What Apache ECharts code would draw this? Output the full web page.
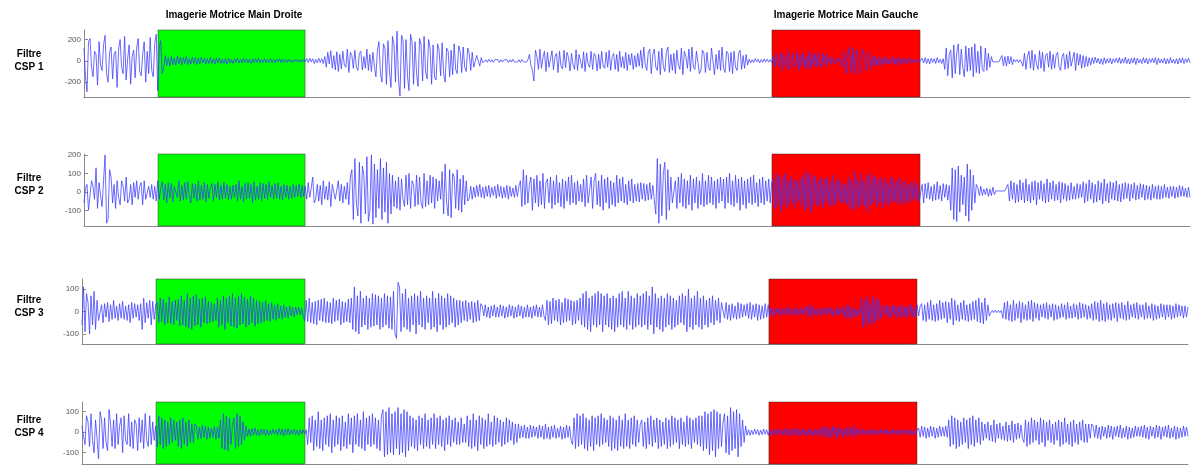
<!DOCTYPE html>
<html>
<head>
<meta charset="utf-8">
<script src="https://cdn.jsdelivr.net/npm/echarts@6/dist/echarts.min.js"></script>
<style>html,body{margin:0;padding:0;background:#fff}#c{width:1196px;height:465px}</style>
</head>
<body>
<div id="c"></div>
<script>
// ---- data (one value per sample) ----
const panelLabels = ['Filtre\nCSP 1', 'Filtre\nCSP 2', 'Filtre\nCSP 3', 'Filtre\nCSP 4'];
const blockTitles = ['Imagerie Motrice Main Droite', 'Imagerie Motrice Main Gauche'];
const tickValues1 = [-200, 0, 200];
const tickValues2 = [-100, 0, 100, 200];
const tickValues3 = [-100, 0, 100];
const tickValues4 = [-100, 0, 100];
const yRange1 = [-340, 290];
const yRange2 = [-185, 205];
const yRange3 = [-145, 145];
const yRange4 = [-155, 147];
// sample-index spans of the two imagery blocks
const greenSpanTop = [49.2, 146.9];
const redSpanTop = [457.2, 555.6];
const greenSpanBottom = [49.2, 148.2];
const redSpanBottom = [456.5, 554.9];

const csp1 = [
120,-150,-290,180,210,-60,-150,90,60,-230,180,-40,-90,150,240,-120,-200,80,130,-170,60,90,-250,110,200,-60,-120,230,-180,20,150,-220,40,100,-160,120,210,-100,-140,60,180,-200,90,-120,220,-90,-150,160,
250,-280,130,190,-120,-60,
50,-45,30,-50,40,-35,25,-40,45,-30,35,-40,30,-25,40,-35,20,-30,35,-25,30,-35,25,-30,35,-20,25,-30,20,-25,30,-25,20,-30,25,-20,30,-25,15,-25,
20,-30,25,-20,15,-25,20,-15,25,-20,15,-20,25,-15,20,-20,15,-25,20,-15,20,-15,25,-20,15,-15,20,-20,15,-15,20,-15,15,-20,15,-10,20,-15,15,-15,
12,-15,15,-12,10,-15,12,-10,15,-12,10,-12,15,-10,
20,-15,25,-10,20,-25,15,-20,25,-15,20,-25,
40,-60,80,-30,95,-70,50,-85,85,-100,60,-75,90,-40,-60,110,-110,80,50,-70,100,-60,-90,70,90,-85,40,-70,110,-90,60,-100,80,-50,
-150,100,180,-120,-200,160,120,-220,190,-100,-250,230,150,-200,280,-180,-330,240,200,-260,200,-150,-280,250,180,-220,180,-120,-240,210,
150,-190,230,-100,-170,200,120,-220,150,-160,-180,160,100,-140,170,-120,-200,120,90,-150,100,-130,160,-80,-120,140,90,-110,130,-60,-100,120,70,-90,80,-60,-70,50,40,-50,30,-20,
-15,10,-12,15,-10,12,-15,10,-8,12,-15,10,-12,8,-10,12,-15,10,-12,15,-10,8,-12,10,-15,12,-8,10,-12,10,
60,-40,-90,-190,100,40,-80,110,-70,30,90,-100,80,-60,-60,95,-85,40,70,-110,90,-50,-75,100,-65,80,30,-95,70,-40,-80,105,-90,60,50,-70,85,-100,75,-30,
-60,90,-80,70,40,-95,60,-75,90,-50,-70,80,-60,100,-90,40,70,-80,60,-100,90,-60,40,-70,80,-90,60,-40,70,-80,50,-60,70,-50,
100,-70,130,-40,-90,80,110,-120,60,110,-60,-90,90,-130,120,-50,-100,80,130,-110,60,-90,70,-120,100,-40,-80,120,-130,90,40,-70,110,-100,130,-60,
-80,90,100,-120,-90,100,70,-110,80,-60,-90,120,110,-130,60,-80,100,-90,130,-70,-110,90,70,-100,80,-120,90,-60,-90,70,100,-80,50,-70,60,-40,
15,-20,10,-15,20,-10,15,-20,12,-15,18,-10,15,-12,10,-15,
40,-60,70,-30,-50,80,-90,60,50,-70,90,-80,40,70,-60,-40,85,-90,60,-50,70,-60,40,-80,90,-70,60,-50,70,-60,80,-40,-60,70,-50,60,-40,30,-30,40,
25,-30,20,-20,30,-25,
-60,90,-40,-120,130,70,-110,120,-130,60,100,-90,-120,80,110,-60,-90,80,60,-70,40,-50,
45,-40,35,-45,30,-35,40,-30,25,-30,20,-25,40,-35,30,-40,25,-20,30,-25,20,-30,25,-20,20,-15,15,-20,15,-15,
-20,25,-20,30,-25,20,-30,25,-15,20,-25,30,-20,15,-25,20,
-80,120,-140,60,100,-160,150,-120,80,160,-130,110,-60,-150,140,-100,120,-90,130,-150,160,-110,90,-120,140,-80,-100,120,-90,70,-60,40,
-10,8,-10,6,-8,10,
50,-45,40,-50,45,-30,40,-35,
15,-10,12,-15,10,-12,
-50,70,-80,40,90,-70,100,-90,60,-30,-80,95,-70,80,-100,50,70,-60,90,-80,60,-70,50,80,-60,-90,40,70,-80,60,-70,90,-50,-60,80,-90,70,-40,60,-70,50,-60,40,-50,30,-40,
30,-25,35,-20,25,-30,20,-35,30,-25,20,-20,25,-30,20,-15,25,-20,30,-25,20,-20,35,-25,20,-30,25,-20,30,-35,25,-20,15,-25,30,-20,25,-30,20,-15,
25,-20,30,-35,25,-20,15,-20,25,-30,20,-25,30,-20,15,-25,20,-30,25,-20,30,-25,20,-15,25,-20
];

const csp2 = [
-60,20,40,-100,-110,60,30,-40,130,-90,50,-20,-80,60,200,-170,-150,120,80,-60,40,-90,60,-30,
-70,60,30,-50,80,-60,-40,40,-70,50,-30,60,-40,30,50,-70,60,-40,-50,30,-30,40,-40,30,
-50,60,-40,20,55,-45,40,-60,50,-35,45,-55,30,40,-30,60,-50,35,-45,50,-40,55,-20,-60,45,-35,40,-50,60,-45,35,-40,50,-55,40,-35,25,45,-50,40,
-30,55,-45,35,-40,50,-35,40,-45,30,-40,35,-30,40,-50,60,-40,30,-55,45,-40,50,-35,40,-60,55,-45,30,-40,50,-50,45,-35,40,-45,55,-30,35,-40,45,
-35,50,-40,30,-45,40,-30,35,-40,30,-35,40,-30,35,-25,40,-30,35,-25,30,
-40,50,-30,20,80,-60,-40,40,-50,35,-70,60,-40,30,-45,55,-80,40,50,-40,-30,60,-50,40,-60,30,-40,50,-70,80,
120,-150,180,-60,-130,160,-170,140,90,-120,190,-160,-100,200,-175,150,-140,120,-90,180,-150,130,-110,160,-170,100,-120,90,-80,60,
-90,80,-100,70,-40,-80,90,-70,100,-90,60,40,-80,90,-70,80,-60,-90,100,-80,60,-70,90,-60,80,-90,70,-50,60,-40,
110,-120,150,-60,-130,120,-140,100,80,-90,120,-100,70,-110,90,-70,60,-50,
-35,30,-40,25,-30,35,-25,40,-30,25,-35,30,-25,35,-30,25,-20,30,-35,40,-25,30,-35,25,-30,35,-40,30,-25,20,-30,35,-25,30,
60,-80,120,-70,90,-60,40,80,-100,70,-60,90,-80,60,-70,100,-90,50,70,-60,80,-90,60,-70,90,-60,50,-80,70,-90,60,-50,80,-70,90,-60,50,-70,60,-50,
40,-55,70,-80,90,-60,-70,80,-90,60,100,-70,60,-80,90,-100,70,-60,80,-90,60,-70,50,-80,90,-60,70,-50,80,-60,40,-70,60,-50,70,-60,40,-50,45,-55,
50,-40,45,-50,40,-45,50,-40,35,-45,
-120,180,-170,150,-130,100,160,-150,120,-100,80,-60,
-70,60,-90,80,-60,100,-80,70,-90,60,-70,90,-100,70,-60,80,-90,60,-70,100,-80,60,-70,90,-60,80,-70,60,-90,70,
-60,80,-50,70,-90,80,-60,100,-70,60,-80,90,-60,70,-100,80,-70,60,-90,70,-60,80,-70,90,-60,50,-80,70,-60,80,-70,60,-50,70,-60,50,
70,-90,100,-80,90,-110,80,-70,100,-90,60,-70,80,-60,70,-90,60,-50,70,-80,90,-100,110,-90,100,-110,80,-70,90,-80,60,-70,80,-90,70,-60,80,-70,60,-80,
90,-70,60,-50,70,-60,50,-60,40,-70,80,-90,60,-100,110,-80,70,-90,100,-70,60,-80,90,-110,100,-70,80,-60,90,-80,70,-60,80,-90,70,-60,50,-70,80,-60,
70,-50,60,-70,80,-60,50,-70,60,-50,40,-60,50,-40,60,-50,40,-50,
-50,40,-60,45,-35,50,-40,30,-50,40,-45,55,-40,35,-50,45,-30,40,-45,35,
-100,130,-150,120,-160,140,-110,90,-70,80,-130,150,-160,120,-100,90,-60,40,
25,-20,30,-20,15,-15,20,-25,15,-20,25,-15,
5,-5,5,-5,4,-5,6,-4,
40,-50,60,-40,50,-60,40,-55,65,-45,50,-60,70,-50,40,-60,55,-45,60,-70,50,-40,60,-50,45,-60,70,-55,50,-40,60,-50,40,-45,55,-60,50,-40,45,-50,
35,-45,50,-40,30,-40,45,-35,40,-30,55,-60,45,-50,65,-40,50,-60,40,-55,60,-45,50,-65,70,-50,45,-60,55,-40,50,-45,60,-50,40,-55,45,-40,50,-35,
45,-50,40,-35,50,-45,35,-40,45,-30,40,-45,35,-40,30,-45,40,-35,30,-40,35,-40,30,-35,40,-30,25,-35,30,-25,30,-35,25,-30,35,-25,30,-25,20,-30,
25,-30
];

const csp3 = [
-60,110,-90,80,40,-100,70,-60,90,-80,50,-40,
-40,30,-50,35,-25,40,-45,30,-35,50,-30,25,-40,35,-30,45,-35,25,-40,30,-50,40,-30,35,-25,30,-40,35,
-80,60,-50,40,-30,50,-60,45,-35,30,
40,-50,60,-45,55,-60,40,-50,65,-55,45,-60,50,-40,55,-65,70,-60,50,-70,80,-75,60,-80,70,-65,75,-60,55,-70,60,-50,65,-55,45,-50,40,-45,35,-40,
60,-70,50,-60,70,-80,60,-50,70,-65,80,-70,60,-75,70,-60,80,-55,65,-70,55,-60,70,-50,60,-65,50,-55,45,-50,40,-45,50,-40,35,-45,40,-35,30,-40,
35,-30,25,-35,30,-25,20,-30,25,-20,20,-25,20,-15,20,-15,15,-20,
-40,50,-45,60,-50,40,-55,45,-60,50,-40,55,-45,60,-50,45,-50,40,-55,60,-45,50,-40,55,-60,45,-50,40,-45,55,-50,60,
-80,110,-90,70,-100,90,-70,60,
-60,70,-80,60,-70,80,-65,75,-60,70,-80,60,-70,80,-60,70,-75,65,-80,90,-100,-120,130,110,
-90,80,-70,100,-80,60,-90,70,-60,80,-100,70,-60,90,-70,60,-80,70,-50,60,-80,90,-70,60,-90,80,-60,70,-80,60,-70,80,-60,70,-50,60,-70,50,-60,50,
-50,45,-40,50,-45,40,-35,45,-50,40,-45,50,-40,35,
25,-20,30,-25,20,-30,25,-20,30,-25,20,-25,30,-20,25,-30,20,-25,30,-20,25,-30,20,-25,30,-20,25,-30,20,-25,30,-25,20,-30,25,-20,30,-25,20,-25,30,-20,
-40,50,-60,45,-55,60,-40,50,-45,55,-60,40,-50,60,-45,55,-40,50,-60,45,-55,50,-40,60,
-60,80,-70,90,-80,60,-90,70,-60,80,-70,90,-60,80,-90,70,-60,80,-70,60,-80,70,-90,60,-70,80,-60,90,-70,60,-80,90,-60,70,-80,60,-70,80,-60,70,
-70,80,-60,90,-80,70,-60,110,-100,80,-70,60,-80,70,-90,60,-70,80,-60,70,-80,60,-70,50,-60,70,-50,80,-60,70,-90,100,-70,60,-80,70,-60,90,-70,60,
-80,70,-60,50,-70,60,-50,70,-60,50,-40,60,-50,40,
35,-30,40,-35,30,-40,35,-30,25,-35,40,-30,35,-25,30,-20,35,-30,40,-35,30,-25,35,-40,30,-35,25,-30,35,-25,30,-20,
15,-20,12,-15,18,-12,15,-20,10,-15,20,-12,15,-18,12,-15,20,-15,12,-18,15,-12,20,-15,25,-20,30,-25,20,-15,
15,-20,12,-18,15,-12,20,-15,18,-12,15,-20,12,-15,18,-20,15,-12,20,-25,30,-35,25,-30,20,-25,15,-20,12,-15,
60,-70,50,-60,70,-50,40,-60,70,-50,60,-40,50,-30,
-25,30,-20,25,-30,20,-25,30,-20,25,-30,20,-25,30,-25,20,-30,25,-20,30,-25,20,-25,30,-20,25,
35,-40,30,-45,40,-35,50,-40,30,-45,35,-40,50,-35,40,-30,45,-50,40,-35,60,-60,50,-40,30,-45,40,-35,50,-40,30,-45,35,-40,45,-35,50,-45,60,-50,40,-55,60,-40,30,-20,
-5,5,-5,5,-5,5,-5,5,
-30,40,-35,45,-40,30,-45,50,-40,35,-30,45,-50,40,-35,30,-40,45,-35,50,-45,40,-30,35,-40,30,-25,35,-30,40,-35,30,-25,35,-40,30,-35,25,-30,35,
-25,30,-35,40,-30,25,-30,35,-25,30,-35,40,-30,35,-25,30,-35,25,-30,35,-40,45,-35,40,-45,50,-40,35,-45,40,-35,30,-40,35,-30,40,-45,35,-30,40,
-35,30,-40,45,-35,30,-25,35,-30,40,-35,30,-25,30,-35,40,-30,25,-30,35,-40,30,-35,25,-30,35,-25,30,-35,30,-25,30,-35,25,-30,35,-25,30,-20,25,
-30,25,-25,20
];

const csp4 = [
30,-20,-60,80,50,-70,90,-40,-100,60,-30,-130,100,60,-80,70,-50,-90,110,40,-70,60,-80,90,-60,30,70,-100,80,-40,-60,90,-70,50,-80,60,40,-90,70,-50,60,-80,90,-40,-70,80,-60,50,-40,30,
-70,80,-60,70,-80,60,-70,50,-60,70,-50,60,-40,50,-70,60,-80,70,-60,50,-70,60,-50,40,-50,40,
30,-35,25,-30,35,-25,30,-35,25,-30,20,-25,30,-35,25,-30,
60,-80,90,-85,80,-90,70,-60,40,70,-80,90,-70,80,-60,50,-40,30,
-20,15,-20,18,-15,20,-15,12,-18,15,-12,15,-18,12,-15,10,-12,15,-10,12,-15,18,-12,15,-20,15,-12,18,-15,12,-10,15,-12,10,-15,12,-10,12,-10,12,
-60,70,-50,80,-90,60,-70,100,-80,60,-90,70,-60,80,-70,90,-100,60,-70,80,-60,70,-90,80,-70,50,-80,90,-60,70,-100,80,-60,90,-70,60,-80,100,-90,70,-60,80,-70,90,-60,70,-80,60,-90,80,
110,-120,100,-110,120,-100,90,-110,100,-80,120,-110,90,-100,110,-120,100,-90,80,-70,
70,-80,60,-90,80,-60,70,-80,90,-70,60,-80,70,-60,90,-80,70,-60,80,-70,60,-90,70,-60,80,-70,60,-50,70,-60,50,-60,70,-50,40,-50,
80,-70,60,-80,90,-70,60,-90,80,-60,70,-80,60,-70,90,-60,50,-70,80,-60,70,-50,60,-70,50,-60,70,-50,60,-40,50,-60,40,-50,40,-30,
30,-25,35,-30,25,-30,35,-25,30,-20,25,-30,35,-25,30,-35,40,-30,25,-35,30,-25,35,-30,20,-25,30,-35,25,-30,35,-25,30,-40,
-60,70,-80,90,-70,80,-60,90,-80,70,-90,60,-70,80,-90,70,-60,80,-70,90,-60,70,-50,60,-70,80,-90,70,-80,60,-90,80,-70,60,-80,90,-70,60,-80,70,-60,80,-70,60,-50,40,
60,-70,50,-80,70,-60,80,-70,60,-50,70,-80,60,-70,50,-60,70,-80,60,-70,80,-60,70,-50,60,-80,70,-60,50,-70,80,-60,70,-80,60,-50,70,-60,80,-70,
80,-90,100,-80,90,-110,100,-90,110,-120,100,-80,90,-70,50,90,-100,80,-110,120,-90,100,-80,110,-120,90,-70,60,-50,30,
-15,12,-15,10,-12,15,-10,12,-15,10,-12,15,-10,12,-15,10,
-15,12,-15,18,-12,15,-10,12,-15,20,-15,12,-18,15,-12,20,-15,18,-20,15,-12,15,-18,12,-15,20,-15,12,-18,15,-20,15,-12,18,-25,30,-20,25,-30,20,
-25,30,-20,25,-30,20,-15,20,-25,15,-20,25,-15,20,-25,30,-20,15,-12,18,-15,12,-10,15,-12,10,-15,12,-10,15,-12,10,-12,15,-10,12,-10,12,-15,10,
-12,15,-10,12,-15,10,-12,15,-10,12,-10,12,-15,10,-12,10,-8,10,
20,-25,30,-20,25,-30,20,-25,30,-20,25,-30,20,-25,30,-20,25,-20,30,-25,
60,-70,80,-60,70,-80,60,-70,50,-60,70,-50,60,-80,70,-60,80,-70,60,-50,70,-60,50,-40,
40,-30,50,-40,35,-45,60,-50,40,-30,45,-35,30,-40,50,-45,35,-40,55,-50,40,-35,45,-30,35,-30,
-50,60,-70,50,-60,70,-50,60,-40,50,-60,70,-50,60,-70,50,-40,60,-50,40,-60,50,-40,60,-70,50,-60,70,-50,40,-60,50,-70,60,-50,40,-60,50,-40,60,-50,40,-50,40,-30,40,
30,-25,35,-30,25,-35,30,-20,25,-30,35,-25,30,-35,25,-20,30,-25,35,-30,20,-25,30,-35,25,-30,20,-25,30,-20,25,-20,30,-25,35,-30,25,-35,30,-20,
25,-30,35,-25,30,-35,25,-20,30,-25,35,-30,20,-25,30,-35,25,-30,20,-25,30,-20,25,-20
];

// ---- chart ----
const signals = [csp1, csp2, csp3, csp4];
const ranges = [yRange1, yRange2, yRange3, yRange4];
const ticks = [tickValues1, tickValues2, tickValues3, tickValues4];
const spans = [[greenSpanTop, redSpanTop],[greenSpanTop, redSpanTop],[greenSpanBottom, redSpanBottom],[greenSpanBottom, redSpanBottom]];
const grids = [
  {left: 84, width: 1106, top: 30, height: 67},
  {left: 84, width: 1106, top: 154, height: 72},
  {left: 82, width: 1106, top: 279, height: 65},
  {left: 82, width: 1106, top: 402, height: 62}
];
const FONT = '"Liberation Sans", Arial, sans-serif';
const axisGray = '#8a8a8a';

const chart = echarts.init(document.getElementById('c'), null, {renderer: 'canvas'});
const option = {
  animation: false,
  backgroundColor: '#fff',
  grid: grids,
  xAxis: signals.map((s, k) => ({
    type: 'value', gridIndex: k, min: 0, max: s.length - 1,
    axisLine: {show: true, onZero: false, lineStyle: {color: axisGray, width: 1}},
    axisTick: {show: false}, axisLabel: {show: false}, splitLine: {show: false}
  })),
  yAxis: signals.map((s, k) => ({
    type: 'value', gridIndex: k, min: ranges[k][0], max: ranges[k][1],
    axisLine: {show: true, lineStyle: {color: axisGray, width: 1}},
    axisTick: {show: true, inside: true, length: 4, lineStyle: {color: axisGray}, customValues: ticks[k]},
    axisLabel: {show: true, customValues: ticks[k], fontSize: 8, color: '#555', fontFamily: FONT, margin: 3},
    splitLine: {show: false}
  })),
  series: signals.map((s, k) => ({
    type: 'line', xAxisIndex: k, yAxisIndex: k,
    data: s.map((v, i) => [i, v]),
    showSymbol: false, symbol: 'none',
    lineStyle: {color: '#3a3aff', width: 1, opacity: 0.75},
    z: 3,
    markArea: {
      silent: true,
      data: [
        [{xAxis: spans[k][0][0], yAxis: ranges[k][1], itemStyle: {color: '#00ff00', opacity: 1}}, {xAxis: spans[k][0][1], yAxis: ranges[k][0]}],
        [{xAxis: spans[k][1][0], yAxis: ranges[k][1], itemStyle: {color: '#ff0000', opacity: 1}}, {xAxis: spans[k][1][1], yAxis: ranges[k][0]}]
      ],
      itemStyle: {borderWidth: 0.5, borderColor: '#333'}
    }
  })),
  graphic: [
    {type: 'text', x: 234, y: 10, style: {text: blockTitles[0], font: 'bold 10px ' + FONT, fill: '#000', textAlign: 'center'}},
    {type: 'text', x: 846, y: 10, style: {text: blockTitles[1], font: 'bold 10px ' + FONT, fill: '#000', textAlign: 'center'}},
    ...panelLabels.map((t, k) => ({
      type: 'text', x: 29, y: [61, 185, 307, 427][k],
      style: {text: t, font: 'bold 10px ' + FONT, fill: '#000', textAlign: 'center', textVerticalAlign: 'middle', lineHeight: 13}
    }))
  ]
};
chart.setOption(option);
</script>
</body>
</html>
